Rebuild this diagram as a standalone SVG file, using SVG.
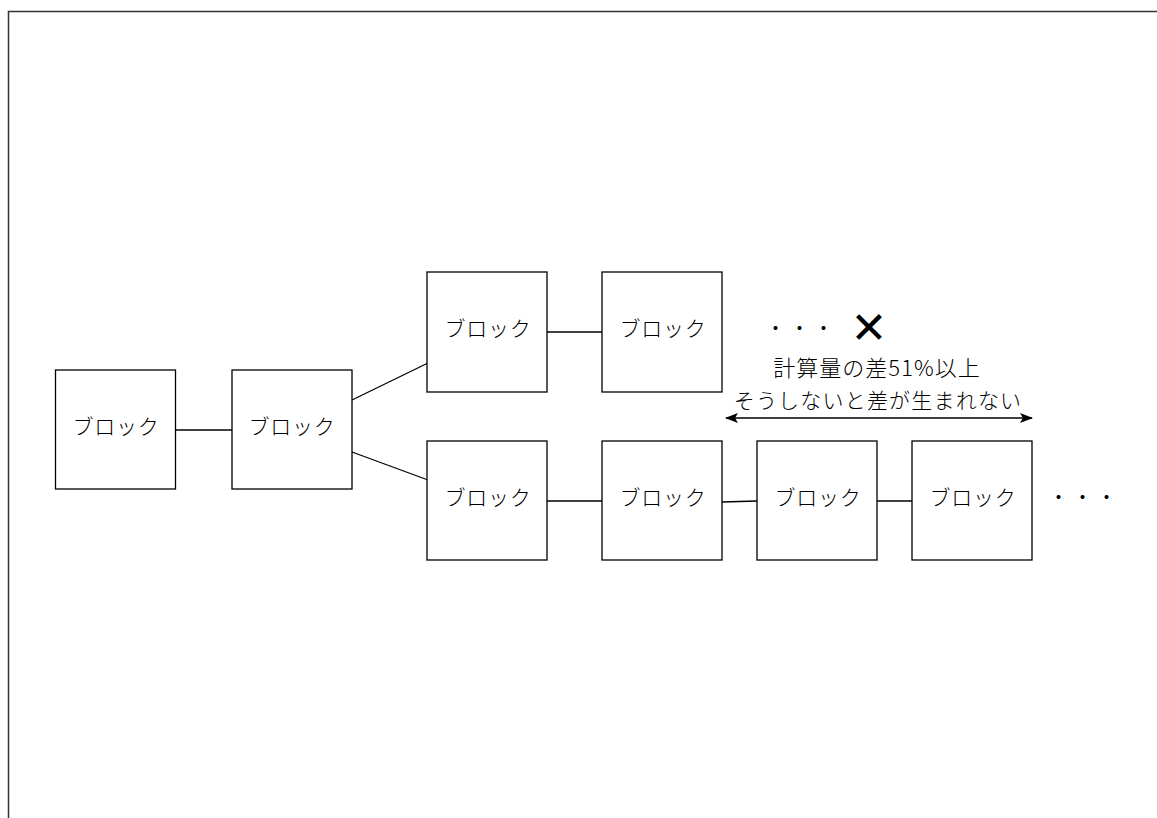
<svg xmlns="http://www.w3.org/2000/svg" width="1157" height="818" viewBox="0 0 1157 818">
<style>
.box{fill:#fff;stroke:#000;stroke-width:1.3}
.lbl{font-family:"Noto Sans CJK JP","Liberation Sans",sans-serif;font-size:21px;font-weight:300;letter-spacing:0.8px;fill:#000;text-anchor:middle;dominant-baseline:central}
.conn{stroke:#000;stroke-width:1.3;fill:none}
.txt{font-family:"Noto Sans CJK JP","Liberation Sans",sans-serif;font-size:21px;font-weight:300;fill:#000;text-anchor:middle}
</style>
<defs>
<marker id="ah" viewBox="0 0 13 10" refX="12" refY="5" markerWidth="13" markerHeight="10" markerUnits="userSpaceOnUse" orient="auto-start-reverse">
<path d="M0,0 L13,5 L0,10 L3,5 Z" fill="#000"/>
</marker>
</defs>
<rect width="1157" height="818" fill="#fff"/>
<path d="M8.5,818 V11.5 H1157" fill="none" stroke="#333" stroke-width="1.5"/>
<g id="connectors">
<line class="conn" x1="176" y1="430" x2="232" y2="430"/>
<line class="conn" x1="352" y1="400" x2="428" y2="363"/>
<line class="conn" x1="352" y1="452" x2="428" y2="480"/>
<line class="conn" x1="547" y1="332" x2="602" y2="332"/>
<line class="conn" x1="547" y1="501" x2="602" y2="501"/>
<line class="conn" x1="722" y1="502" x2="757" y2="501"/>
<line class="conn" x1="877" y1="501" x2="912" y2="501"/>
<line class="conn" x1="726" y1="418" x2="1032" y2="418" stroke-width="1.8" marker-start="url(#ah)" marker-end="url(#ah)"/>
</g>
<g id="n1"><rect class="box" x="55.5" y="370" width="120" height="119"/><text class="lbl" x="116" y="425">ブロック</text></g>
<g id="n2"><rect class="box" x="232" y="370" width="120" height="119"/><text class="lbl" x="292" y="425">ブロック</text></g>
<g id="n3"><rect class="box" x="427" y="272" width="120" height="120"/><text class="lbl" x="488" y="327">ブロック</text></g>
<g id="n4"><rect class="box" x="602" y="272" width="120" height="120"/><text class="lbl" x="663" y="327">ブロック</text></g>
<g id="n5"><rect class="box" x="427" y="441" width="120" height="119"/><text class="lbl" x="488" y="496">ブロック</text></g>
<g id="n6"><rect class="box" x="602" y="441" width="120" height="119"/><text class="lbl" x="663" y="496">ブロック</text></g>
<g id="n7"><rect class="box" x="757" y="441" width="120" height="119"/><text class="lbl" x="818" y="496">ブロック</text></g>
<g id="n8"><rect class="box" x="912" y="441" width="120" height="119"/><text class="lbl" x="973" y="496">ブロック</text></g>
<g id="notes">
<text class="lbl" x="801" y="327" style="letter-spacing:3px">・・・</text>
<text x="869" y="343" font-family="DejaVu Sans,sans-serif" font-size="44" text-anchor="middle" fill="#000">✕</text>
<text class="txt" x="877" y="376" style="font-size:22px;letter-spacing:1px">計算量の差51%以上</text>
<text class="txt" x="878" y="408" style="letter-spacing:1.2px">そうしないと差が生まれない</text>
<text class="lbl" x="1084" y="496" style="letter-spacing:3px">・・・</text>
</g>
</svg>
